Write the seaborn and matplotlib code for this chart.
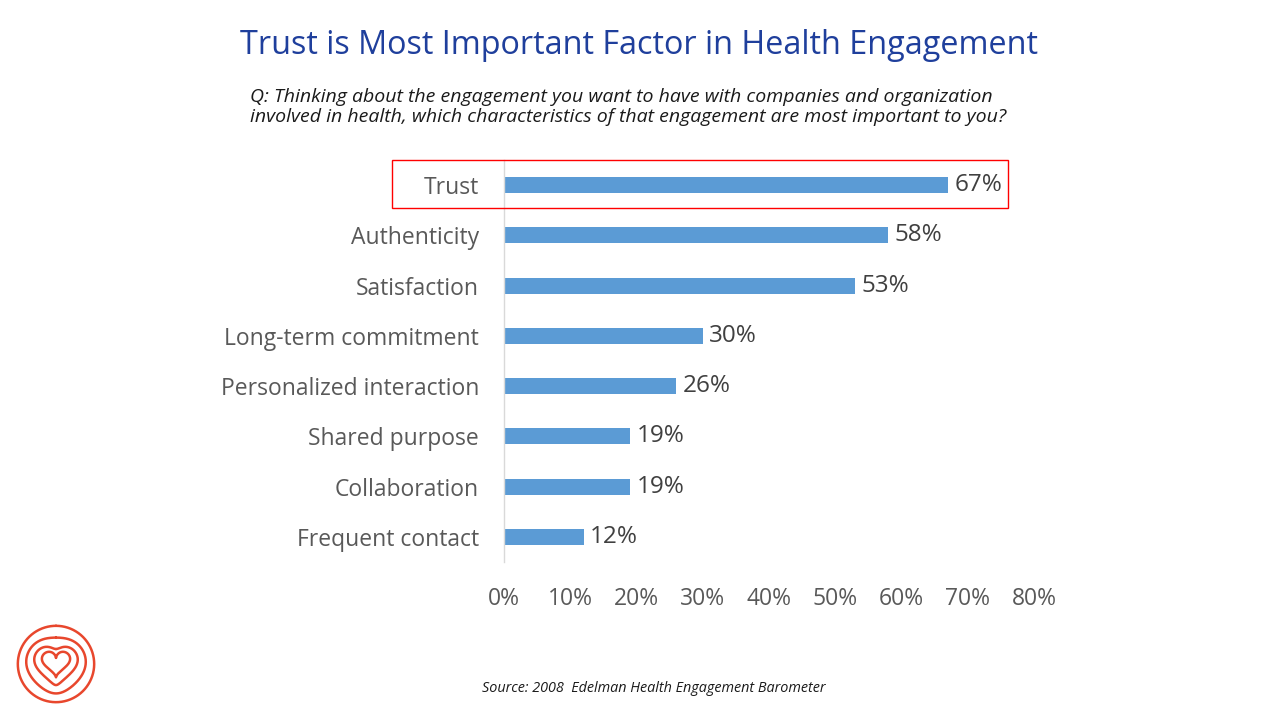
import numpy as np
import pandas as pd
import matplotlib.pyplot as plt
import seaborn as sns
from matplotlib.patches import Rectangle

######################################################################
# Data
characteristics = ['Trust', 'Authenticity', 'Satisfaction', 'Long-term commitment',
                   'Personalized interaction', 'Shared purpose', 'Collaboration',
                   'Frequent contact']
share = [67, 58, 53, 30, 26, 19, 19, 12]
tick_values = [0, 10, 20, 30, 40, 50, 60, 70, 80]
tick_labels = ['0%', '10%', '20%', '30%', '40%', '50%', '60%', '70%', '80%']

dt = pd.DataFrame({'item': characteristics, 'share': share})

sns.set_style('white')
plt.rcParams['font.family'] = ['Open Sans', 'DejaVu Sans']

fig = plt.figure(figsize=(12.8, 7.2), dpi=100)
ax = fig.add_axes([504 / 1280, 1 - 562 / 720, 530 / 1280, 402 / 720])

sns.barplot(data=dt, x='share', y='item', orient='h', color='#5b9bd5',
            saturation=1, width=0.32, linewidth=0, ax=ax)

for i, v in enumerate(share):
    ax.text(v + 1.0, i, '{}%'.format(v), va='center', ha='left',
            fontsize=17.5, color='#404040')

ax.set_xlim(0, 80)
ax.set_ylim(len(characteristics) - 0.5, -0.5)
ax.set_xticks(tick_values)
ax.set_xticklabels(tick_labels, fontsize=16.5, color='#595959')
ax.tick_params(axis='y', labelsize=16.5, labelcolor='#595959', length=0, pad=18)
ax.tick_params(axis='x', length=0, pad=18)
ax.set_xlabel('')
ax.set_ylabel('')
for s in ['top', 'right', 'bottom']:
    ax.spines[s].set_visible(False)
ax.spines['left'].set_color('#d9d9d9')
ax.spines['left'].set_linewidth(1)

# red box around the top item
fig.patches.append(Rectangle((392 / 1280, 1 - 208 / 720), 616 / 1280, 48 / 720,
                             transform=fig.transFigure, fill=False,
                             edgecolor='#ff0000', linewidth=1))

######################################################################
# Titles
fig.text(639 / 1280, 1 - 46 / 720, 'Trust is Most Important Factor in Health Engagement',
         ha='center', va='center', fontsize=23.3, color='#1f3f9c')
fig.text(250 / 1280, 1 - 107 / 720,
         'Q: Thinking about the engagement you want to have with companies and organization\n'
         'involved in health, which characteristics of that engagement are most important to you?',
         ha='left', va='center', fontsize=14, style='italic', color='#1a1a1a',
         linespacing=1.2)
fig.text(654 / 1280, 1 - 689 / 720, 'Source: 2008  Edelman Health Engagement Barometer',
         ha='center', va='center', fontsize=10.4, style='italic', color='#1a1a1a')

######################################################################
# Logo
lg = fig.add_axes([14 / 1280, 1 - 706 / 720, 84 / 1280, 84 / 720])
lg.set_aspect('equal')
lg.axis('off')
t = np.linspace(0, 2 * np.pi, 400)
hx = 16 * np.sin(t) ** 3 / 16
hy = (13 * np.cos(t) - 5 * np.cos(2 * t) - 2 * np.cos(3 * t) - np.cos(4 * t)) / 16 + 0.12
cx = np.sin(t)
cy = np.cos(t)
for scale, mix in [(1.0, 0.0), (0.78, 0.2), (0.57, 0.55), (0.37, 1.0)]:
    xs = scale * ((1 - mix) * cx + mix * hx)
    ys = scale * ((1 - mix) * cy + mix * hy)
    lg.plot(xs, ys, color='#e8472d', linewidth=1.8)
lg.set_xlim(-1.1, 1.1)
lg.set_ylim(-1.1, 1.1)

plt.savefig('out.png', dpi=100)
